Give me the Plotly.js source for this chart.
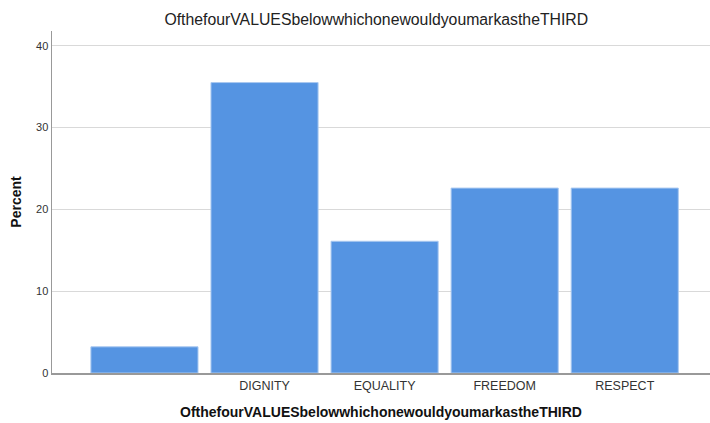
<!DOCTYPE html>
<html>
<head>
<meta charset="utf-8">
<script src="https://cdn.plot.ly/plotly-3.0.1.min.js"></script>
<style>html,body{margin:0;padding:0;background:#fff}#chart{width:710px;height:423px}</style>
</head>
<body>
<div id="chart"></div>
<script>
const categories = [' ', 'DIGNITY', 'EQUALITY', 'FREEDOM', 'RESPECT'];
const percents = [3.2, 35.5, 16.1, 22.6, 22.6];
const titleText = 'OfthefourVALUESbelowwhichonewouldyoumarkastheTHIRD';
const yTitle = 'Percent';

const trace = {
  type: 'bar',
  x: categories,
  y: percents,
  marker: {color: '#5594E2', line: {color: '#A9C8F0', width: 1}},
  hoverinfo: 'x+y'
};

const layout = {
  width: 710, height: 423,
  margin: {l: 52, r: 0, t: 31, b: 50, pad: 0},
  paper_bgcolor: '#ffffff', plot_bgcolor: '#ffffff',
  font: {family: 'Liberation Sans, Arial, sans-serif', color: '#333333'},
  title: {text: titleText, x: 0.53, xanchor: 'center', y: 0.955, yanchor: 'middle',
          font: {size: 15.8, color: '#222222'}},
  bargap: 0.108,
  showlegend: false,
  xaxis: {
    type: 'category', range: [-0.77, 4.71],
    showline: true, linecolor: '#999999', linewidth: 1.5,
    showgrid: false, ticks: '', zeroline: false,
    tickfont: {size: 12.5, color: '#333333'},
    title: {text: titleText, font: {size: 14, color: '#111111', weight: 'bold'}, standoff: 15}
  },
  yaxis: {
    range: [0, 41.8], tickvals: [0, 10, 20, 30, 40],
    showline: true, linecolor: '#999999', linewidth: 1.5,
    showgrid: true, gridcolor: '#D9D9D9', gridwidth: 1,
    zeroline: false, ticks: '', ticklen: 0,
    tickfont: {size: 11, color: '#333333'},
    title: {text: yTitle, font: {size: 14, color: '#111111', weight: 'bold'}, standoff: 11}
  }
};

Plotly.newPlot('chart', [trace], layout, {displayModeBar: false, staticPlot: true});
</script>
</body>
</html>
